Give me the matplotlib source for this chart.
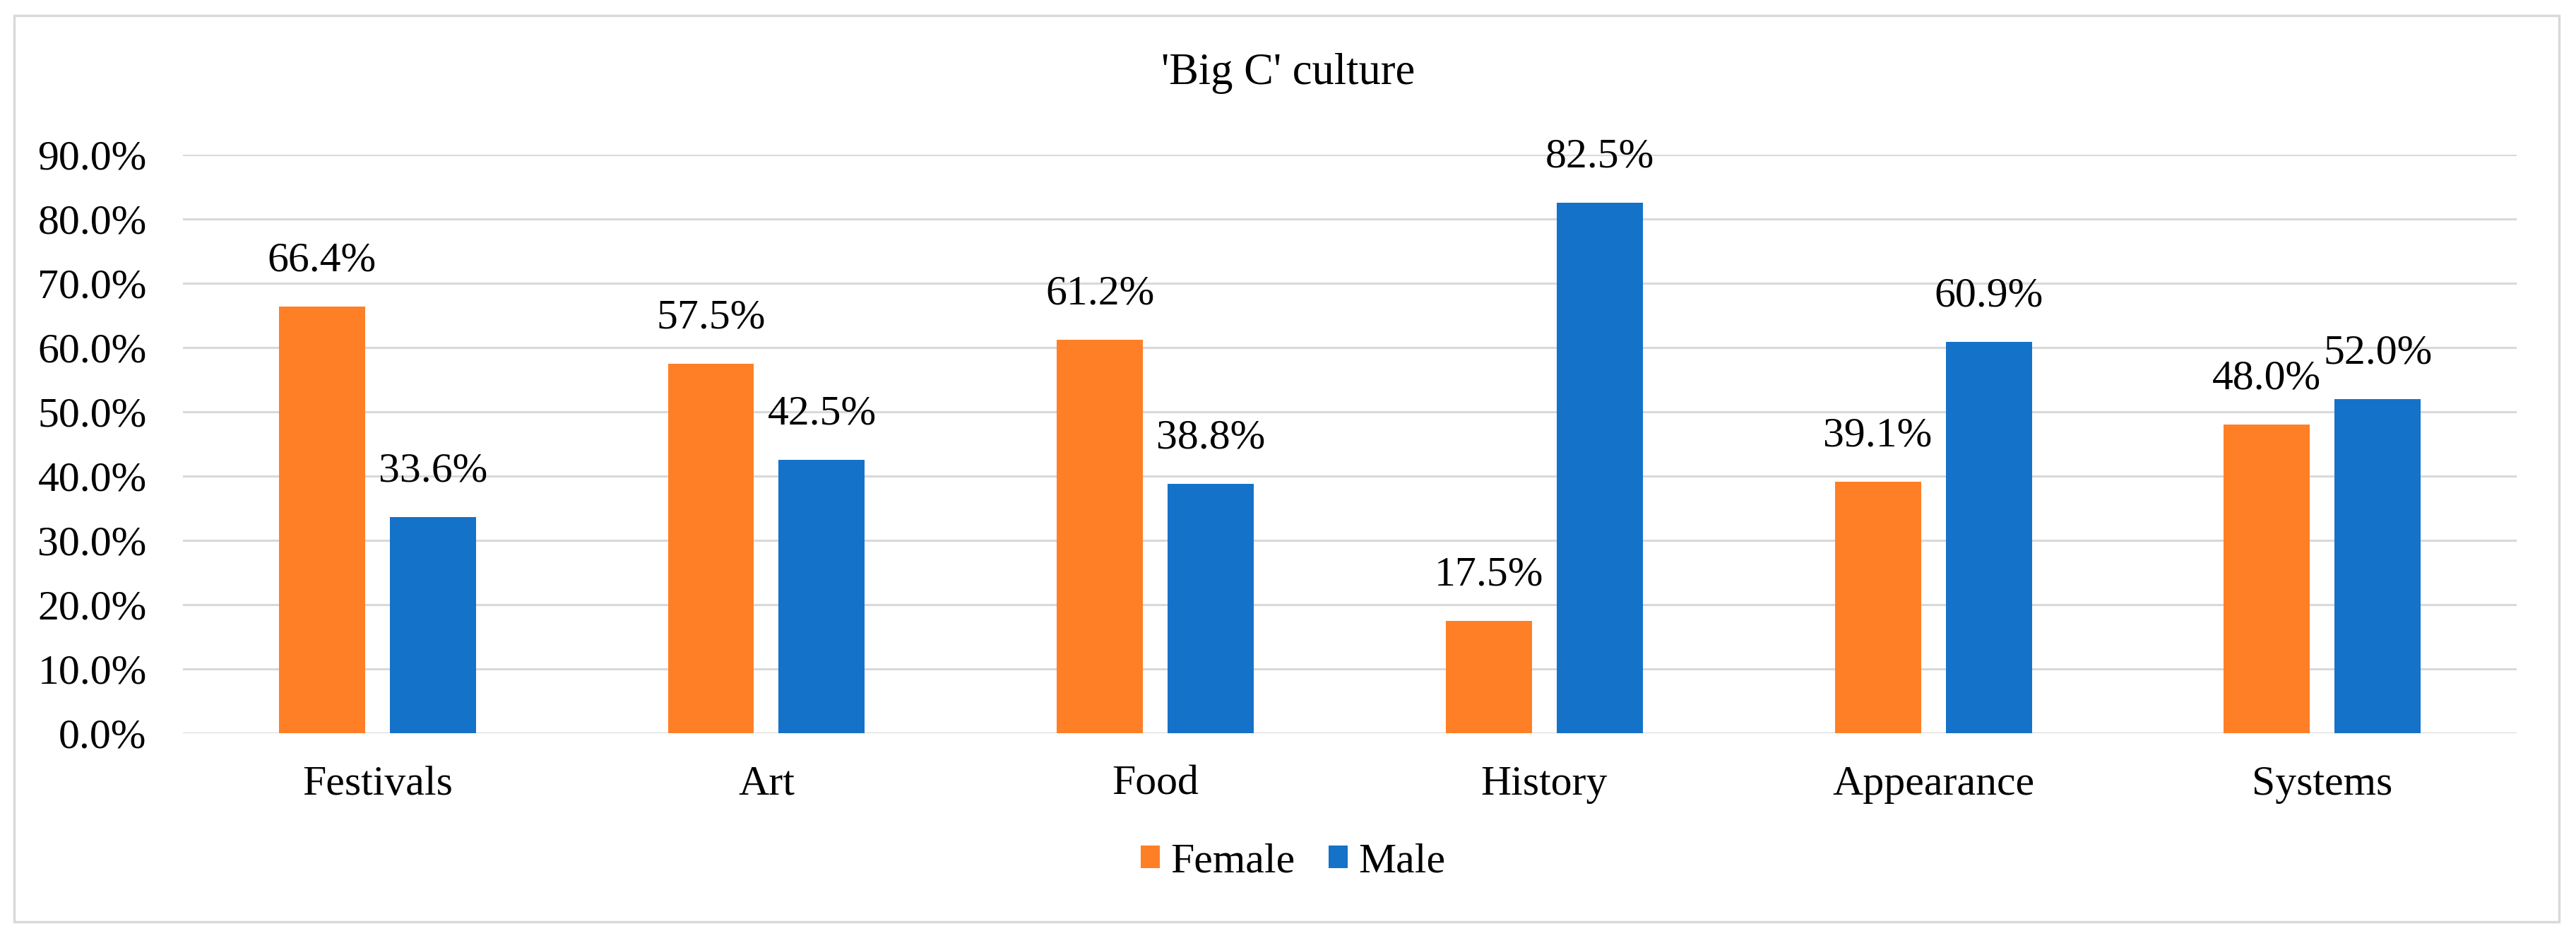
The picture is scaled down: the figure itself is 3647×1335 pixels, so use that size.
import matplotlib.pyplot as plt
from matplotlib.patches import Rectangle
import numpy as np

categories = ['Festivals', 'Art', 'Food', 'History', 'Appearance', 'Systems']
female = [66.4, 57.5, 61.2, 17.5, 39.1, 48.0]
male = [33.6, 42.5, 38.8, 82.5, 60.9, 52.0]
yticks = [0, 10, 20, 30, 40, 50, 60, 70, 80, 90]

orange = '#FF7F27'
blue = '#1572C9'
grid_grey = '#D9D9D9'

plt.rcParams['font.family'] = ['Liberation Serif', 'DejaVu Serif']

fig = plt.figure(figsize=(36.47, 13.35), dpi=100)
ax = fig.add_axes([0.071, 0.2225, 0.906, 0.6135])

x = np.arange(len(categories))
w = 0.2215
off = 0.1425
b1 = ax.bar(x - off, female, w, color=orange, label='Female', zorder=3)
b2 = ax.bar(x + off, male, w, color=blue, label='Male', zorder=3)

for bars, vals in ((b1, female), (b2, male)):
    for b, v in zip(bars, vals):
        ax.annotate(f'{v:.1f}%', (b.get_x() + b.get_width() / 2, v),
                    xytext=(0, 27), textcoords='offset points',
                    ha='center', va='bottom', fontsize=43)

ax.set_xlim(-0.5, len(categories) - 0.5)
ax.set_ylim(0, 90)
ax.set_yticks(yticks)
ax.set_yticklabels([f'{t:.1f}%' for t in yticks])
ax.set_xticks(x)
ax.set_xticklabels(categories)
ax.tick_params(axis='both', length=0, labelsize=43)
ax.tick_params(axis='y', pad=37)
ax.tick_params(axis='x', pad=33)
ax.grid(axis='y', color=grid_grey, linewidth=2.2, zorder=0)
for s in ax.spines.values():
    s.set_visible(False)

fig.text(0.5, 0.922, "'Big C' culture", ha='center', va='center', fontsize=45)

fig.legend(loc='center', bbox_to_anchor=(0.502, 0.086), ncol=2, frameon=False,
           fontsize=43, handlelength=0.45, handleheight=0.45,
           handletextpad=0.25, columnspacing=0.8)

fig.patches.append(Rectangle((0.0055, 0.0225), 0.988, 0.961, transform=fig.transFigure,
                             fill=False, edgecolor=grid_grey, linewidth=2.5))

fig.savefig('out.png', dpi=100)
